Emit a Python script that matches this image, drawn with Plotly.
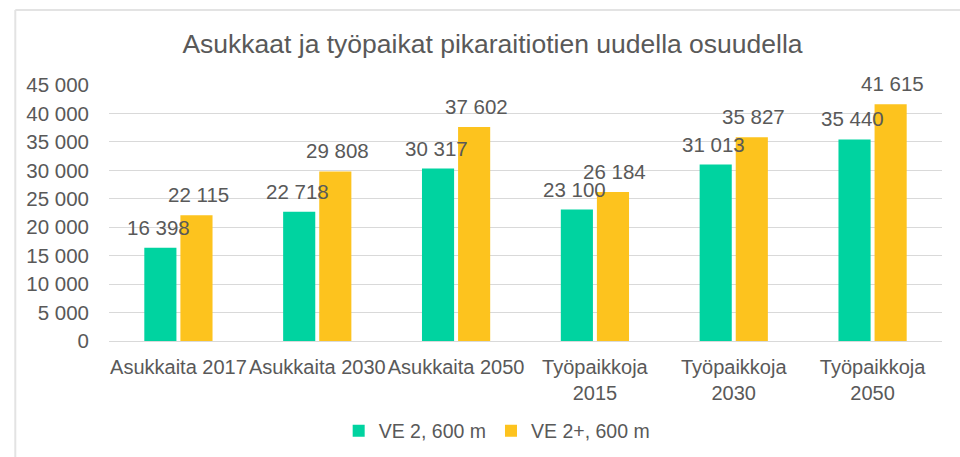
import plotly.graph_objects as go

categories = [
    "Asukkaita 2017",
    "Asukkaita 2030",
    "Asukkaita 2050",
    "Työpaikkoja<br>2015",
    "Työpaikkoja<br>2030",
    "Työpaikkoja<br>2050",
]
ve2_600 = [16398, 22718, 30317, 23100, 31013, 35440]
ve2plus_600 = [22115, 29808, 37602, 26184, 35827, 41615]
y_ticks = [0, 5000, 10000, 15000, 20000, 25000, 30000, 35000, 40000, 45000]


def fmt(v):
    return f"{v:,}".replace(",", " ")


TEXT = "#595959"
GREEN = "#00D3A0"
YELLOW = "#FDC31E"
FONT = "Liberation Sans, Arial, sans-serif"
LABEL_SIZE = 20.5

series = [("VE 2, 600 m", ve2_600, GREEN, -20), ("VE 2+, 600 m", ve2plus_600, YELLOW, 20)]

fig = go.Figure()
for name, values, color, _ in series:
    fig.add_trace(go.Bar(
        x=categories, y=values, name=name,
        marker=dict(color=color, line=dict(width=0)),
    ))

# value labels drawn above all bars so neighbouring labels stay readable
for name, values, color, shift in series:
    for cat, v in zip(categories, values):
        fig.add_annotation(
            x=cat, y=v, xref="x", yref="y", text=fmt(v), showarrow=False,
            xanchor="center", yanchor="bottom", xshift=shift, yshift=7,
            font=dict(size=LABEL_SIZE, color=TEXT, family=FONT),
        )

# chart-area frame (top and left edges)
fig.add_shape(type="line", xref="paper", yref="paper",
              x0=-0.1125, x1=1.05, y0=1.293, y1=1.293,
              line=dict(color="#E3E3E3", width=2))
fig.add_shape(type="line", xref="paper", yref="paper",
              x0=-0.1125, x1=-0.1125, y0=1.293, y1=-0.5,
              line=dict(color="#E3E3E3", width=2))

fig.update_layout(
    width=960, height=457,
    margin=dict(l=109, r=18, t=85, b=116, autoexpand=False),
    paper_bgcolor="white", plot_bgcolor="white",
    font=dict(family=FONT, color=TEXT, size=20),
    title=dict(text="Asukkaat ja työpaikat pikaraitiotien uudella osuudella",
               x=0.513, xanchor="center", y=0.905, yanchor="middle",
               font=dict(size=26.5, color=TEXT, family=FONT)),
    barmode="group", bargap=0.48, bargroupgap=0.11,
    showlegend=True,
    legend=dict(orientation="h", x=0.466, xanchor="center", y=-0.352, yanchor="middle",
                font=dict(size=19.5, color=TEXT, family=FONT),
                itemwidth=30, traceorder="normal"),
)
fig.update_xaxes(showgrid=False, showline=False, ticks="", ticklabelstandoff=12,
                 tickfont=dict(size=20, color=TEXT))
fig.update_yaxes(range=[0, 45000], tickvals=y_ticks, ticktext=[fmt(v) for v in y_ticks],
                 showgrid=True, gridcolor="#D9D9D9", gridwidth=1,
                 zeroline=True, zerolinecolor="#D9D9D9", zerolinewidth=1,
                 showline=False, ticks="", ticklabelstandoff=19,
                 tickfont=dict(size=20.5, color=TEXT))

fig.write_html("out.html")
